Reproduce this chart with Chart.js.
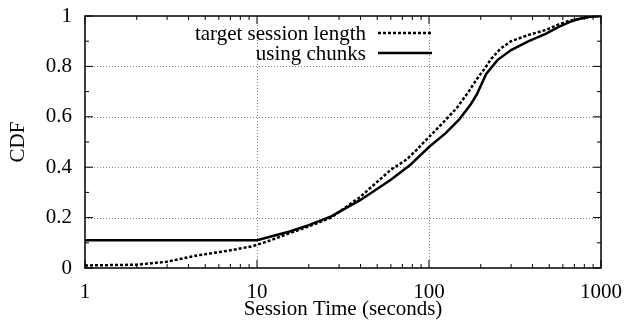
<!DOCTYPE html>
<html>
<head>
<meta charset="utf-8">
<script src="https://cdn.jsdelivr.net/npm/chart.js@4.4.1/dist/chart.umd.min.js"></script>
<style>
  html, body { margin: 0; padding: 0; background: #fff; }
  #wrap { width: 626px; height: 320px; }
</style>
</head>
<body>
<div id="wrap"><canvas id="myChart" width="626" height="320"></canvas></div>
<script>
"use strict";
// session time (s) vs CDF
const targetX = [1, 2, 3, 4.5, 7, 9.5, 12, 15, 20, 27, 40, 60, 74, 85, 100, 120, 145, 170, 190, 210, 230, 260, 300, 380, 480, 560, 660, 760, 860, 1000];
const targetY = [0.01, 0.013, 0.025, 0.05, 0.07, 0.087, 0.11, 0.135, 0.165, 0.2, 0.283, 0.39, 0.43, 0.47, 0.52, 0.575, 0.635, 0.7, 0.75, 0.79, 0.83, 0.87, 0.9, 0.925, 0.945, 0.965, 0.982, 0.99, 0.997, 1];
const chunksX = [1, 10, 15.5, 20, 27, 40, 60, 78, 100, 125, 150, 175, 190, 215, 250, 300, 380, 480, 560, 660, 760, 860, 1000];
const chunksY = [0.11, 0.11, 0.145, 0.17, 0.205, 0.27, 0.35, 0.41, 0.48, 0.535, 0.59, 0.65, 0.69, 0.77, 0.825, 0.865, 0.9, 0.93, 0.955, 0.977, 0.99, 0.997, 1];
const labels = ["target session length", "using chunks"];
const xTicks = [1, 10, 100, 1000];
const yTicks = [0, 0.2, 0.4, 0.6, 0.8, 1];

const FONT = { family: "'Liberation Serif', 'DejaVu Serif', serif", size: 21 };
const TITLE_FONT = { family: FONT.family, size: 21, lineHeight: 1 };
const ctx = document.getElementById("myChart");

function toPoints(xs, ys) {
  return xs.map((v, i) => ({ x: v, y: ys[i] }));
}

// dotted grid, frame and inward tick marks (gnuplot look)
const frameTicks = {
  id: "frameTicks",
  beforeDatasetsDraw(chart) {
    const { ctx, chartArea, scales } = chart;
    const { left, right, top, bottom } = chartArea;
    ctx.save();
    ctx.strokeStyle = "#888";
    ctx.lineWidth = 1;
    ctx.setLineDash([1, 2]);
    xTicks.slice(1, -1).forEach((v) => {
      const px = Math.round(scales.x.getPixelForValue(v)) + 0.5;
      ctx.beginPath(); ctx.moveTo(px, top); ctx.lineTo(px, bottom); ctx.stroke();
    });
    yTicks.slice(1, -1).forEach((v) => {
      const py = Math.round(scales.y.getPixelForValue(v)) + 0.5;
      ctx.beginPath(); ctx.moveTo(left, py); ctx.lineTo(right, py); ctx.stroke();
    });
    ctx.restore();
  },
  afterDatasetsDraw(chart) {
    const { ctx, chartArea, scales } = chart;
    const { left, right, top, bottom } = chartArea;
    ctx.save();
    ctx.strokeStyle = "#000";
    ctx.lineWidth = 1;
    ctx.beginPath();
    // x ticks, major and minor, top and bottom
    xTicks.forEach((d, i) => {
      const px = scales.x.getPixelForValue(d);
      ctx.moveTo(px, bottom); ctx.lineTo(px, bottom - 8);
      ctx.moveTo(px, top); ctx.lineTo(px, top + 8);
      if (i < xTicks.length - 1) {
        for (let k = 2; k <= 9; k++) {
          const mx = scales.x.getPixelForValue(k * d);
          ctx.moveTo(mx, bottom); ctx.lineTo(mx, bottom - 4);
          ctx.moveTo(mx, top); ctx.lineTo(mx, top + 4);
        }
      }
    });
    // y ticks
    yTicks.forEach((v, i) => {
      const py = scales.y.getPixelForValue(v);
      ctx.moveTo(left, py); ctx.lineTo(left + 8, py);
      ctx.moveTo(right, py); ctx.lineTo(right - 8, py);
      if (i < yTicks.length - 1) {
        const my = scales.y.getPixelForValue((v + yTicks[i + 1]) / 2);
        ctx.moveTo(left, my); ctx.lineTo(left + 4, my);
        ctx.moveTo(right, my); ctx.lineTo(right - 4, my);
      }
    });
    ctx.stroke();
    ctx.lineWidth = 1.5;
    ctx.strokeRect(left, top, right - left, bottom - top);
    ctx.restore();
  },
  afterDraw(chart) {
    // legend: text right-aligned, line sample after it
    const { ctx } = chart;
    ctx.save();
    ctx.font = FONT.size + "px " + FONT.family;
    ctx.textAlign = "right";
    ctx.textBaseline = "middle";
    ctx.fillStyle = "#000";
    chart.data.datasets.forEach((ds, i) => {
      const y = 33 + i * 20;
      ctx.fillText(ds.label, 366, y + 1);
      ctx.strokeStyle = ds.borderColor;
      ctx.lineWidth = ds.borderWidth;
      ctx.setLineDash(ds.borderDash || []);
      ctx.beginPath(); ctx.moveTo(378, y); ctx.lineTo(432, y); ctx.stroke();
    });
    ctx.restore();
  },
};

const myChart = new Chart(ctx, {
  type: "line",
  data: {
    datasets: [
      {
        label: labels[0],
        data: toPoints(targetX, targetY),
        borderColor: "#000",
        borderWidth: 2.5,
        borderDash: [3, 2],
        pointRadius: 0,
        tension: 0,
      },
      {
        label: labels[1],
        data: toPoints(chunksX, chunksY),
        borderColor: "#000",
        borderWidth: 2.5,
        pointRadius: 0,
        tension: 0,
      },
    ],
  },
  options: {
    responsive: false,
    animation: false,
    layout: { padding: { left: 6, right: 25, top: 16, bottom: 0 } },
    plugins: { legend: { display: false }, tooltip: { enabled: false } },
    scales: {
      x: {
        type: "logarithmic",
        min: 1,
        max: 1000,
        afterBuildTicks: (s) => { s.ticks = xTicks.map((v) => ({ value: v })); },
        afterFit: (s) => { s.height = 52; s.paddingLeft = 0; s.paddingRight = 0; },
        ticks: { callback: (v) => String(v), font: FONT, color: "#000", padding: 12, maxRotation: 0, autoSkip: false },
        grid: { display: false, drawTicks: false },
        border: { display: false },
        title: { display: true, text: "Session Time (seconds)", font: TITLE_FONT, color: "#000", padding: { top: 0, bottom: 0 } },
      },
      y: {
        min: 0,
        max: 1,
        afterBuildTicks: (s) => { s.ticks = yTicks.map((v) => ({ value: v })); },
        afterFit: (s) => { s.width = 79; s.paddingTop = 0; s.paddingBottom = 0; },
        ticks: { callback: (v) => String(v), font: FONT, color: "#000", padding: 13 },
        grid: { display: false, drawTicks: false },
        border: { display: false },
        title: { display: true, text: "CDF", font: TITLE_FONT, color: "#000", padding: { top: 2, bottom: 0 } },
      },
    },
  },
  plugins: [frameTicks],
});
</script>
</body>
</html>
